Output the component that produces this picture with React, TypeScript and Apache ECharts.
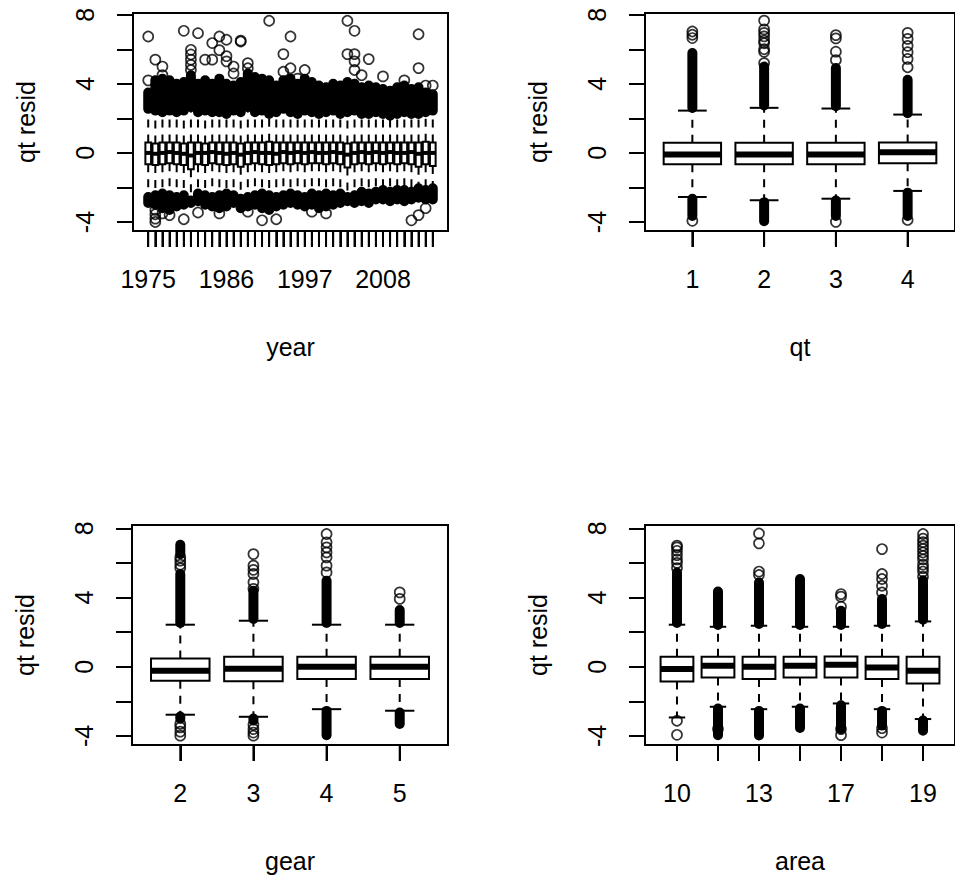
import React, { useEffect, useRef } from "react";
import * as echarts from "echarts";

// ---------------- DATA ----------------
const yearCats = [
  "1975", "1976", "1977", "1978", "1979", "1980", "1981", "1982", "1983", "1984",
  "1985", "1986", "1987", "1988", "1989", "1990", "1991", "1992", "1993", "1994",
  "1995", "1996", "1997", "1998", "1999", "2000", "2001", "2002", "2003", "2004",
  "2005", "2006", "2007", "2008", "2009", "2010", "2011", "2012", "2013", "2014", "2015",
];
const yearLabelIdx = [1, 12, 23, 34];
const yearWhiskLow = [-2.4, -2.3, -2.2, -2.3, -2.4, -2.3, -2.6, -2.2, -2.3, -2.4, -2.3, -2.2, -2.3, -2.5, -2.4, -2.3, -2.2, -2.3, -2.4, -2.3, -2.2, -2.3, -2.4, -2.2, -2.3, -2.2, -2.3, -2.2, -2.4, -2.3, -2.1, -2.2, -2.1, -2.0, -2.1, -2.0, -2.0, -2.1, -1.9, -2.0, -1.9];
const yearQ1 = [-0.65, -0.7, -0.65, -0.6, -0.65, -0.7, -0.95, -0.65, -0.7, -0.6, -0.65, -0.7, -0.65, -0.8, -0.65, -0.6, -0.65, -0.7, -0.65, -0.6, -0.65, -0.6, -0.65, -0.6, -0.6, -0.65, -0.6, -0.65, -0.85, -0.65, -0.6, -0.65, -0.6, -0.65, -0.6, -0.65, -0.6, -0.65, -0.8, -0.65, -0.75];
const yearMedian = [0.0, -0.05, 0.0, 0.05, 0.0, -0.05, -0.15, 0.0, 0.0, 0.05, 0.0, -0.05, 0.0, -0.1, 0.0, 0.05, 0.0, 0.0, -0.05, 0.05, 0.0, 0.05, 0.0, 0.05, 0.0, 0.0, 0.05, 0.0, -0.1, 0.0, 0.05, 0.0, 0.05, 0.0, 0.05, 0.0, 0.0, 0.05, -0.05, 0.0, 0.0];
const yearQ3 = [0.6, 0.55, 0.6, 0.6, 0.6, 0.55, 0.6, 0.6, 0.55, 0.6, 0.6, 0.6, 0.6, 0.55, 0.6, 0.6, 0.6, 0.65, 0.6, 0.6, 0.6, 0.6, 0.6, 0.6, 0.6, 0.6, 0.6, 0.6, 0.55, 0.6, 0.6, 0.6, 0.6, 0.6, 0.6, 0.6, 0.6, 0.6, 0.6, 0.65, 0.6];
const yearWhiskHigh = [2.4, 2.3, 2.2, 2.3, 2.2, 2.3, 2.5, 2.2, 2.3, 2.2, 2.2, 2.1, 2.3, 2.2, 2.5, 2.2, 2.3, 2.1, 2.2, 2.4, 2.2, 2.1, 2.3, 2.2, 2.1, 2.2, 2.3, 2.1, 2.2, 2.3, 2.1, 2.1, 2.2, 2.1, 2.0, 2.1, 2.2, 2.1, 2.1, 2.2, 2.3];
// extent of the densely packed outliers (overlapping circles form a solid column)
const yearDenseTop = [3.5, 4.2, 4.3, 4.2, 4.0, 4.1, 4.5, 4.0, 4.2, 4.0, 4.3, 4.0, 3.9, 4.1, 4.6, 4.4, 4.3, 4.2, 3.9, 4.2, 4.3, 4.0, 4.3, 4.1, 3.9, 3.8, 4.0, 3.9, 4.1, 4.0, 3.8, 3.9, 3.8, 3.7, 3.6, 3.8, 3.9, 3.7, 3.8, 3.5, 3.4];
const yearDenseBottom = [-2.9, -3.0, -3.2, -3.3, -3.1, -3.0, -2.9, -2.8, -3.0, -3.1, -3.2, -3.1, -2.9, -3.2, -3.1, -3.0, -3.2, -3.3, -3.1, -3.0, -2.9, -3.0, -3.1, -3.0, -3.2, -3.1, -3.0, -2.9, -2.8, -2.9, -2.8, -2.9, -2.7, -2.7, -2.8, -2.7, -2.8, -2.7, -2.6, -2.7, -2.7];
// [category position, value]
const yearOutliers = [
  [1, 6.74], [1, 4.2], [2, 5.4], [2, -3.3], [2, -3.55], [2, -3.8], [2, -4.0], [3, 5.0], [3, 4.5], [3, -3.5],
  [4, -3.6], [6, 7.07], [6, -3.84], [7, 5.97], [7, 5.7], [7, 5.4], [7, 5.1], [7, 4.8], [8, 6.93], [8, -3.45],
  [9, 5.4], [10, 5.4], [10, 6.36], [11, 6.74], [11, 5.95], [11, -3.5], [12, 6.55], [12, 5.6], [12, 5.3], [13, 5.0],
  [13, 4.6], [14, 6.45], [14, 6.5], [15, 4.9], [15, 5.2], [15, -3.4], [17, -3.9], [18, 7.65], [19, -3.84], [20, 5.72],
  [20, 4.7], [21, 6.74], [21, 4.9], [22, 4.3], [23, 4.8], [24, -3.4], [26, -3.5], [29, 7.65], [30, 7.07], [29, 5.72],
  [30, 5.72], [30, 5.3], [32, 5.43], [30, 4.8], [31, 4.5], [34, 4.43], [39, 6.87], [39, 4.91], [38, -3.9], [39, -3.6],
  [40, -3.2], [37, 4.2], [40, 3.9], [41, 3.9],
];

const qtCats = ["1", "2", "3", "4"];
const qtLabelIdx = [1, 2, 3, 4];
// [lower whisker, Q1, median, Q3, upper whisker]
const qtStats = [
  [-2.55, -0.66, -0.09, 0.59, 2.45],
  [-2.74, -0.66, -0.09, 0.59, 2.61],
  [-2.65, -0.66, -0.09, 0.59, 2.57],
  [-2.2, -0.6, 0.04, 0.6, 2.22],
];
// [category position, from, to]
const qtDense = [
  [1, 2.6, 5.78], [2, 2.75, 5.0], [3, 2.7, 4.91], [4, 2.3, 4.24],
  [1, -2.65, -3.65], [2, -2.85, -3.95], [3, -2.75, -3.65], [4, -2.3, -3.65],
];
const qtOutliers = [
  [1, 7.03], [1, 6.84], [1, 6.65],
  [2, 5.2], [2, 5.85], [2, 6.0], [2, 6.35], [2, 6.5], [2, 6.75], [2, 6.95], [2, 7.15], [2, 7.66],
  [3, 5.37], [3, 5.86], [3, 6.63], [3, 6.82], [3, -3.99],
  [4, 4.96], [4, 5.44], [4, 5.83], [4, 6.2], [4, 6.6], [4, 6.95], [4, -3.88],
  [1, -3.93],
];

const gearCats = ["2", "3", "4", "5"];
const gearLabelIdx = [1, 2, 3, 4];
const gearStats = [
  [-2.77, -0.81, -0.23, 0.48, 2.43],
  [-2.89, -0.83, -0.12, 0.58, 2.66],
  [-2.45, -0.71, 0.0, 0.58, 2.43],
  [-2.54, -0.71, 0.0, 0.58, 2.43],
];
const gearDense = [
  [1, 2.53, 5.36], [1, 6.5, 7.05], [2, 2.76, 4.39], [3, 2.53, 4.97], [4, 2.53, 3.28],
  [1, -2.87, -3.0], [2, -2.99, -3.1], [3, -2.55, -3.95], [4, -2.64, -3.31],
];
const gearOutliers = [
  [1, 5.7], [1, 5.9], [1, 6.13], [1, 6.32], [1, -3.3], [1, -3.5], [1, -3.75], [1, -3.98],
  [2, 4.5], [2, 4.88], [2, 5.36], [2, 5.6], [2, 5.84], [2, 6.51], [2, -3.35], [2, -3.6], [2, -3.8], [2, -3.98],
  [3, 5.45], [3, 5.84], [3, 6.32], [3, 6.61], [3, 6.9], [3, 7.19], [3, 7.67],
  [4, 3.92], [4, 4.3],
];

const areaCats = ["10", "12", "13", "15", "17", "18", "19"];
const areaLabelIdx = [1, 3, 5, 7];
const areaStats = [
  [-2.93, -0.85, -0.13, 0.58, 2.43],
  [-2.31, -0.62, 0.06, 0.58, 2.31],
  [-2.45, -0.71, 0.0, 0.58, 2.37],
  [-2.31, -0.62, 0.06, 0.58, 2.31],
  [-2.12, -0.62, 0.12, 0.6, 2.31],
  [-2.45, -0.71, -0.04, 0.58, 2.37],
  [-3.02, -0.96, -0.23, 0.58, 2.62],
];
const areaDense = [
  [1, 2.53, 5.45], [2, 2.41, 4.35], [3, 2.47, 4.87], [4, 2.41, 5.07], [5, 2.41, 3.24], [6, 2.47, 3.91], [7, 2.72, 5.0],
  [2, -2.41, -3.95], [3, -2.55, -3.97], [4, -2.41, -3.54], [5, -2.22, -3.6], [6, -2.55, -3.4], [7, -3.1, -3.7],
];
const areaOutliers = [
  [1, 5.7], [1, 6.0], [1, 6.2], [1, 6.45], [1, 6.7], [1, 6.9], [1, 7.0], [1, -3.12], [1, -3.93],
  [2, -3.6],
  [3, 5.3], [3, 5.5], [3, 7.13], [3, 7.7],
  [5, 3.47], [5, 4.05], [5, 4.2], [5, -3.6], [5, -3.95],
  [6, 4.29], [6, 4.68], [6, 5.07], [6, 5.36], [6, 6.8], [6, -3.55], [6, -3.8],
  [7, 5.2], [7, 5.5], [7, 5.7], [7, 5.9], [7, 6.2], [7, 6.4], [7, 6.6], [7, 6.8], [7, 7.0], [7, 7.2], [7, 7.4], [7, 7.67],
];

const yTicks = [-4, -2, 0, 2, 4, 6, 8];
const yLabels = [-4, 0, 4, 8];

// ---------------- CHART ----------------
const FONT = "'Liberation Sans Narrow', 'Liberation Sans', Arial, sans-serif";
const FS = 25;
const TICK_LEN = 16;

type PanelDef = {
  cats: string[];
  labelAt: number[];
  stats: number[][];
  dense: number[][];
  outliers: number[][];
  xName: string;
  grid: { left: number; top: number; width: number; height: number };
  yMin: number;
  yMax: number;
  medianWidth: number;
};

function buildOption(panels: PanelDef[]) {
  const grid: any[] = [];
  const xAxis: any[] = [];
  const yAxis: any[] = [];
  const series: any[] = [];
  const txt = { color: "#000", fontFamily: FONT, fontSize: FS };

  panels.forEach((p, i) => {
    const n = p.cats.length;
    grid.push({ ...p.grid, show: true, borderColor: "#000", borderWidth: 2, backgroundColor: "transparent", containLabel: false });
    const tickPos = p.cats.map((_, k) => k + 1);
    xAxis.push({
      type: "value",
      gridIndex: i,
      position: "bottom",
      min: 0.5 - 0.04 * n,
      max: n + 0.5 + 0.04 * n,
      axisLine: { show: false, onZero: false },
      axisTick: { show: true, inside: false, length: TICK_LEN, customValues: tickPos, lineStyle: { color: "#000", width: 2 } },
      axisLabel: {
        customValues: p.labelAt,
        formatter: (v: number) => p.cats[Math.round(v) - 1] ?? "",
        margin: 35,
        ...txt,
      },
      splitLine: { show: false },
      name: p.xName,
      nameLocation: "middle",
      nameGap: 103,
      nameTextStyle: txt,
    });
    yAxis.push({
      type: "value",
      gridIndex: i,
      position: "left",
      min: p.yMin,
      max: p.yMax,
      axisLine: { show: false, onZero: false },
      axisTick: { show: true, inside: false, length: TICK_LEN, customValues: yTicks, lineStyle: { color: "#000", width: 2 } },
      axisLabel: { customValues: yLabels, rotate: 90, margin: 36, ...txt },
      splitLine: { show: false },
      name: "qt resid",
      nameLocation: "middle",
      nameGap: 95,
      nameRotate: 90,
      nameTextStyle: txt,
    });

    const medW = p.medianWidth;
    series.push({
      type: "custom",
      xAxisIndex: i,
      yAxisIndex: i,
      encode: { x: 0, y: [1, 2, 3, 4, 5] },
      data: p.stats.map((s, k) => [k + 1, ...s]),
      renderItem: (params: any, api: any) => {
        const x = api.value(0);
        const lo = api.value(1), q1 = api.value(2), md = api.value(3), q3 = api.value(4), hi = api.value(5);
        const pHi = api.coord([x, hi]);
        const pQ3 = api.coord([x, q3]);
        const pQ1 = api.coord([x, q1]);
        const pLo = api.coord([x, lo]);
        const pMd = api.coord([x, md]);
        const bl = api.coord([x - 0.4, q3])[0];
        const br = api.coord([x + 0.4, q3])[0];
        const sl = api.coord([x - 0.2, q3])[0];
        const sr = api.coord([x + 0.2, q3])[0];
        const st = { stroke: "#000", lineWidth: 2, fill: null };
        return {
          type: "group",
          children: [
            { type: "line", shape: { x1: pQ3[0], y1: pQ3[1], x2: pHi[0], y2: pHi[1] }, style: { ...st, lineDash: [8, 7] } },
            { type: "line", shape: { x1: pQ1[0], y1: pQ1[1], x2: pLo[0], y2: pLo[1] }, style: { ...st, lineDash: [8, 7] } },
            { type: "line", shape: { x1: sl, y1: pHi[1], x2: sr, y2: pHi[1] }, style: st },
            { type: "line", shape: { x1: sl, y1: pLo[1], x2: sr, y2: pLo[1] }, style: st },
            { type: "rect", shape: { x: bl, y: pQ3[1], width: br - bl, height: pQ1[1] - pQ3[1] }, style: { fill: "#fff", stroke: "#000", lineWidth: 2 } },
            { type: "line", shape: { x1: bl, y1: pMd[1], x2: br, y2: pMd[1] }, style: { stroke: "#000", lineWidth: medW } },
          ],
        };
      },
      z: 2,
    });
    series.push({
      type: "custom",
      xAxisIndex: i,
      yAxisIndex: i,
      encode: { x: 0, y: [1, 2] },
      data: p.dense,
      renderItem: (params: any, api: any) => {
        const x = api.value(0);
        const a = api.coord([x, api.value(1)]);
        const b = api.coord([x, api.value(2)]);
        const top = Math.min(a[1], b[1]) - 5;
        const bottom = Math.max(a[1], b[1]) + 5;
        return {
          type: "rect",
          shape: { x: a[0] - 5, y: top, width: 10, height: bottom - top, r: 5 },
          style: { fill: "#000" },
        };
      },
      z: 3,
    });
    series.push({
      type: "scatter",
      xAxisIndex: i,
      yAxisIndex: i,
      data: p.outliers,
      symbol: "circle",
      symbolSize: 10,
      itemStyle: { color: "transparent", borderColor: "#000", borderWidth: 1.7 },
      emphasis: { disabled: true },
      z: 4,
    });
    // category tick marks below the plot frame, placed by the x scale
    series.push({
      type: "custom",
      xAxisIndex: i,
      yAxisIndex: i,
      clip: false,
      silent: true,
      encode: { x: 0, y: 1 },
      data: tickPos.map((k) => [k, p.yMin]),
      renderItem: (params: any, api: any) => {
        const pt = api.coord([api.value(0), api.value(1)]);
        return {
          type: "line",
          shape: { x1: pt[0], y1: pt[1], x2: pt[0], y2: pt[1] + TICK_LEN },
          style: { stroke: "#000", lineWidth: 2 },
        };
      },
      z: 5,
    });
  });

  return { animation: false, backgroundColor: "#fff", grid, xAxis, yAxis, series };
}

const yearStats = yearCats.map((_, k) => [yearWhiskLow[k], yearQ1[k], yearMedian[k], yearQ3[k], yearWhiskHigh[k]]);
const yearDense = [
  ...yearCats.map((_, k) => [k + 1, yearWhiskHigh[k] + 0.15, yearDenseTop[k]]),
  ...yearCats.map((_, k) => [k + 1, yearWhiskLow[k] - 0.15, yearDenseBottom[k]]),
];

export default function App() {
  const ref = useRef<HTMLDivElement>(null);
  useEffect(() => {
    if (!ref.current) return;
    const chart = echarts.init(ref.current, undefined, { renderer: "svg" });
    const panels: PanelDef[] = [
      {
        cats: yearCats, labelAt: yearLabelIdx, stats: yearStats, dense: yearDense, outliers: yearOutliers,
        xName: "year", grid: { left: 133, top: 13, width: 315, height: 218 }, yMin: -4.52, yMax: 8.1, medianWidth: 4,
      },
      {
        cats: qtCats, labelAt: qtLabelIdx, stats: qtStats, dense: qtDense, outliers: qtOutliers,
        xName: "qt", grid: { left: 645, top: 13, width: 315, height: 218 }, yMin: -4.52, yMax: 8.1, medianWidth: 6,
      },
      {
        cats: gearCats, labelAt: gearLabelIdx, stats: gearStats, dense: gearDense, outliers: gearOutliers,
        xName: "gear", grid: { left: 132, top: 525, width: 316, height: 220 }, yMin: -4.52, yMax: 8.19, medianWidth: 6,
      },
      {
        cats: areaCats, labelAt: areaLabelIdx, stats: areaStats, dense: areaDense, outliers: areaOutliers,
        xName: "area", grid: { left: 645, top: 525, width: 315, height: 220 }, yMin: -4.52, yMax: 8.19, medianWidth: 6,
      },
    ];
    chart.setOption(buildOption(panels));
    return () => chart.dispose();
  }, []);
  return <div ref={ref} style={{ position: "absolute", left: 0, top: 0, width: 955, height: 879 }} />;
}
